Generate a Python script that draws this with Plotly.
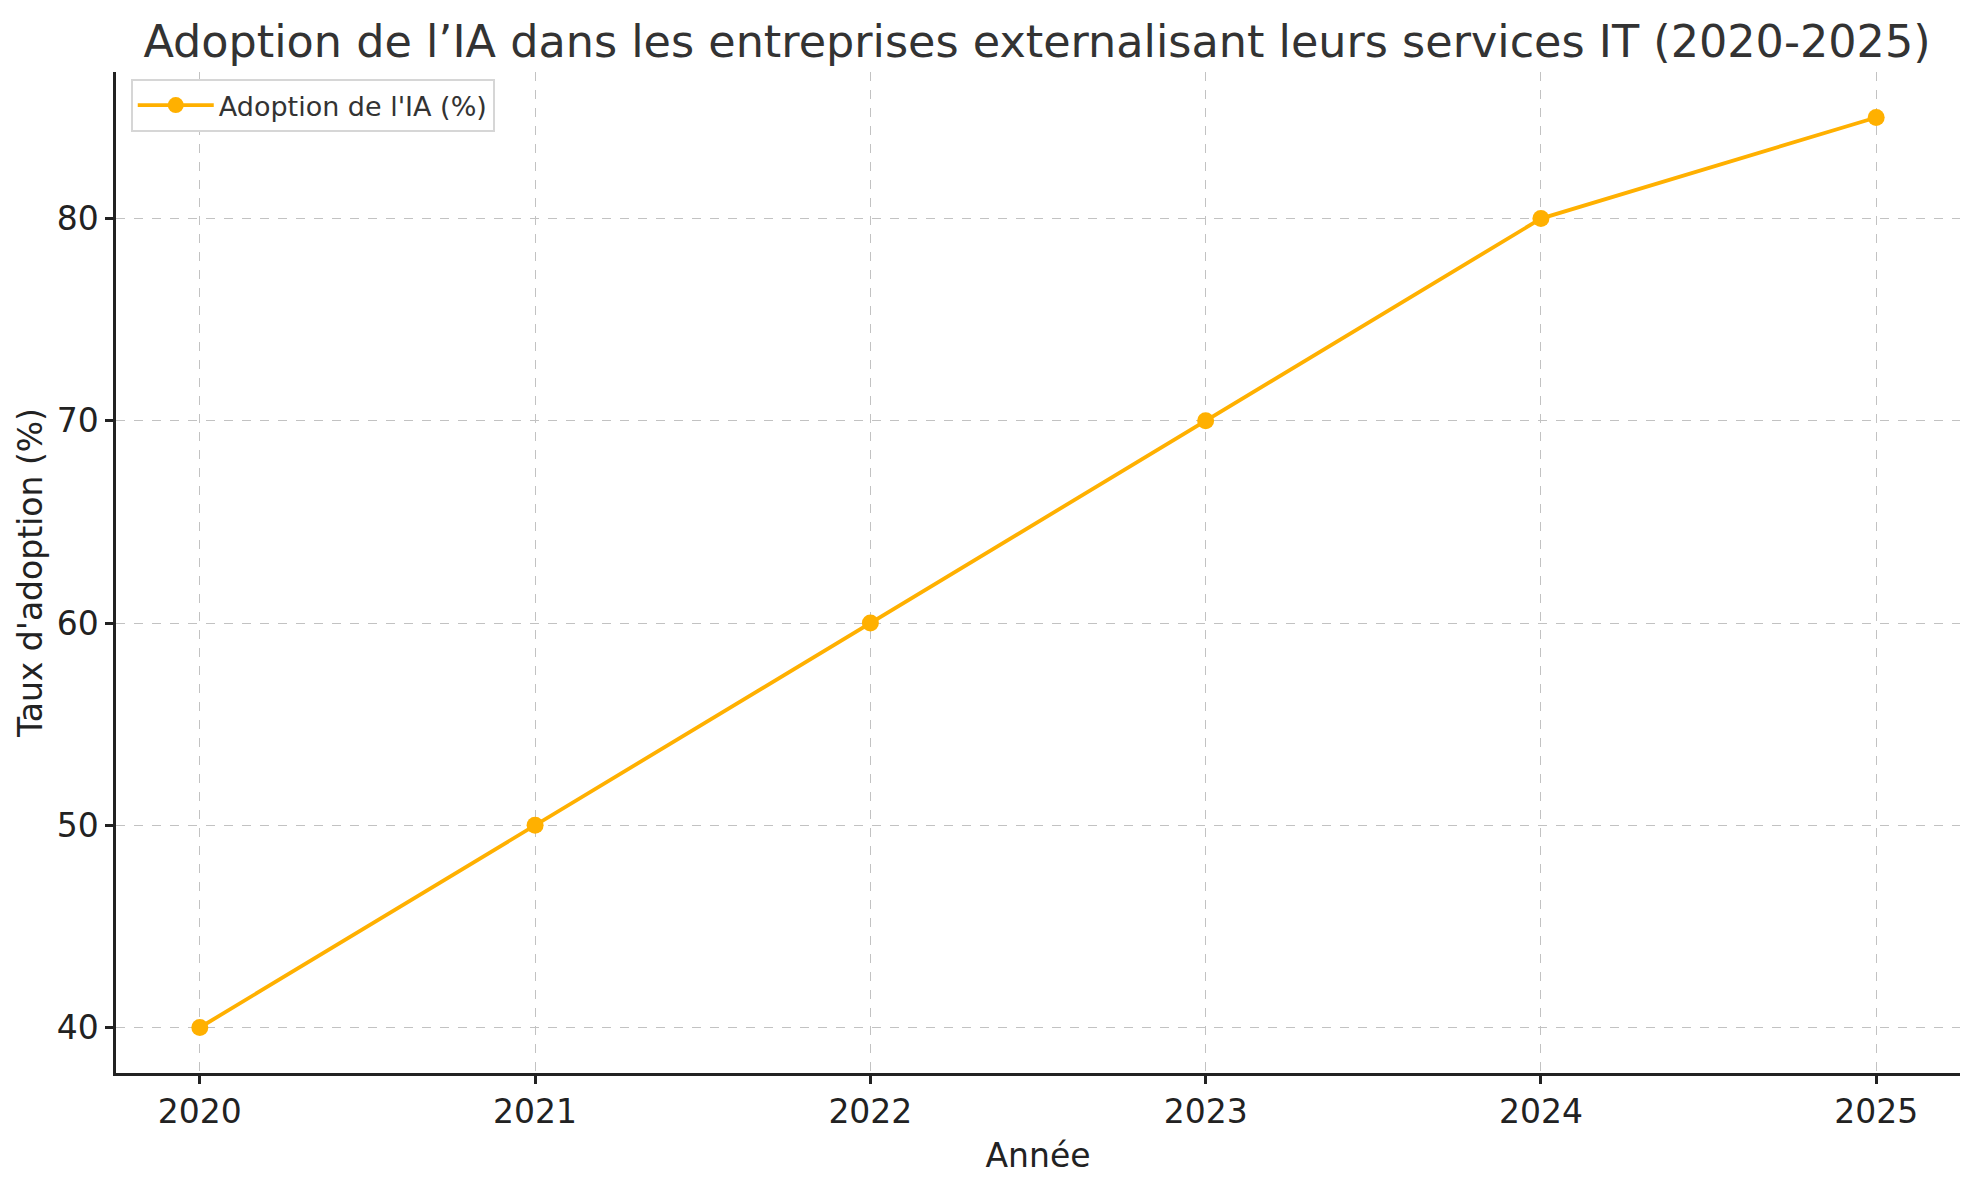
import plotly.graph_objects as go

annees = [2020, 2021, 2022, 2023, 2024, 2025]
adoption = [40, 50, 60, 70, 80, 85]
y_ticks = [40, 50, 60, 70, 80]

titre = "Adoption de l’IA dans les entreprises externalisant leurs services IT (2020-2025)"
couleur = "#FFB000"

fig = go.Figure()
fig.add_trace(go.Scatter(
    x=annees, y=adoption, mode="lines+markers", name="Adoption de l'IA (%)",
    line=dict(color=couleur, width=3.8),
    marker=dict(color=couleur, size=17),
))

font = "DejaVu Sans"
fig.update_layout(
    width=1979, height=1180,
    paper_bgcolor="white", plot_bgcolor="white",
    margin=dict(l=116, r=19, t=72, b=107),
    font=dict(family=font, color="#222"),
    title=dict(text=titre, x=0.524, xanchor="center", y=0.978, yanchor="top",
               font=dict(size=44.5, color="#333", family=font)),
    showlegend=True,
    legend=dict(x=0.008, y=0.993, xanchor="left", yanchor="top",
                bgcolor="white", bordercolor="#d6d6d6", borderwidth=2,
                itemwidth=76,
                font=dict(size=27, color="#333", family=font)),
    xaxis=dict(
        range=[2019.75, 2025.25], tickmode="array", tickvals=annees,
        ticktext=[str(a) for a in annees],
        showline=True, linecolor="#222", linewidth=2.5,
        ticks="outside", ticklen=8, tickwidth=2.5, tickcolor="#222",
        tickfont=dict(size=33, color="#222"),
        showgrid=True, gridcolor="#c2c2c2", griddash="dash", gridwidth=1.4,
        zeroline=False,
        title=dict(text="Année", font=dict(size=33, color="#222"), standoff=14),
    ),
    yaxis=dict(
        range=[37.75, 87.25], tickmode="array", tickvals=y_ticks,
        showline=True, linecolor="#222", linewidth=2.5,
        ticks="outside", ticklen=8, tickwidth=2.5, tickcolor="#222",
        tickfont=dict(size=33, color="#222"),
        showgrid=True, gridcolor="#c2c2c2", griddash="dash", gridwidth=1.4,
        zeroline=False,
        title=dict(text="Taux d'adoption (%)", font=dict(size=33, color="#222"), standoff=5),
    ),
)

fig.write_html("out.html")
